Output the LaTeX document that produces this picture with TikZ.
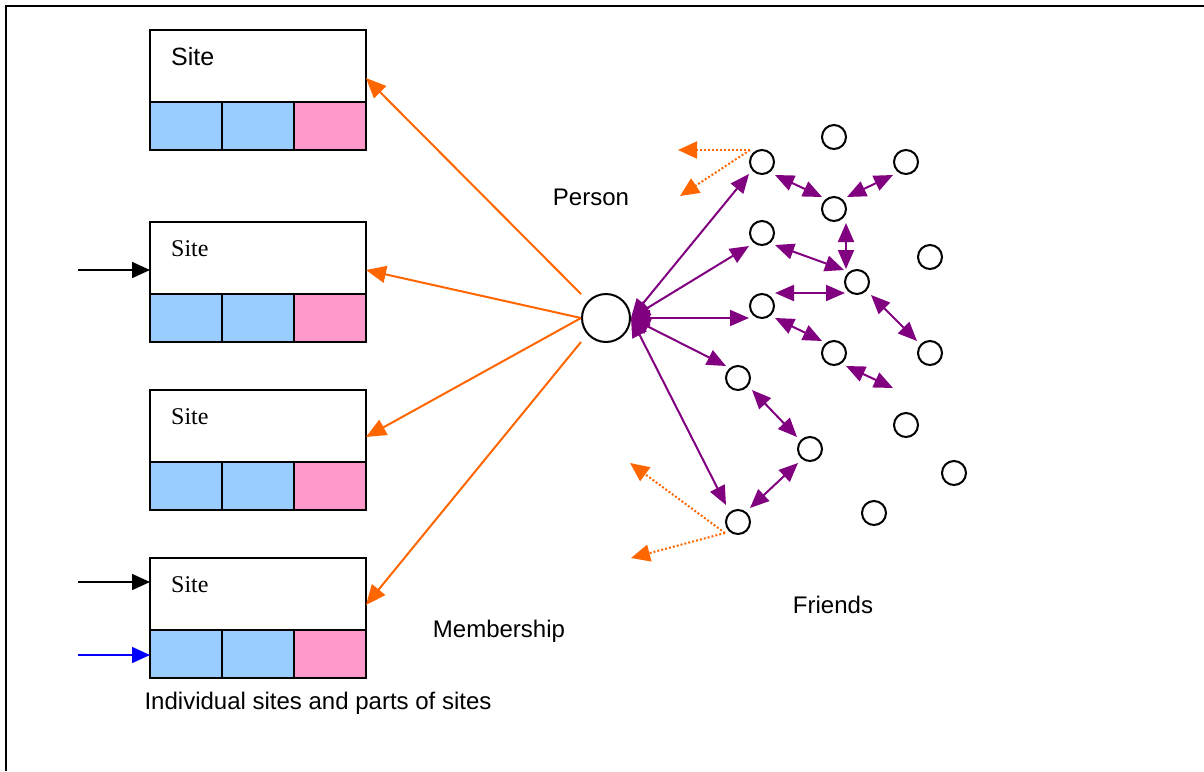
\documentclass[tikz,border=0pt]{standalone}
\usepackage{fontspec}
\setmainfont{Liberation Sans}
\newfontfamily\timesfont{Liberation Serif}
\usetikzlibrary{arrows.meta,calc}
\definecolor{orng}{HTML}{FF6600}
\definecolor{purp}{HTML}{800080}
\definecolor{cellblue}{HTML}{99CCFF}
\definecolor{cellpink}{HTML}{FF99CC}
\begin{document}
\begin{tikzpicture}[x=1pt,y=-1pt,
  sitetop/.style={draw,line width=2.4pt,minimum width=216pt,minimum height=72pt,anchor=north west,inner sep=0pt,outer sep=0pt},
  cell/.style={draw,line width=2.4pt,minimum width=72pt,minimum height=48pt,anchor=north west,inner sep=0pt,outer sep=0pt},
  big/.style={font=\fontsize{24}{28}\selectfont,inner sep=0pt},
  friend/.style={draw,circle,line width=2pt,minimum size=24pt,inner sep=0pt},
  memb/.style={draw=orng,line width=2pt,-{Triangle[length=20pt,width=17pt]}},
  link/.style={draw=purp,line width=2pt,{Triangle[length=19pt,width=16pt]}-{Triangle[length=19pt,width=16pt]}},
  hint/.style={draw=orng,line width=2pt,dash pattern=on 2pt off 2pt,-{Triangle[length=19pt,width=17pt]}},
  feed/.style={line width=1.6pt,-{Triangle[length=18pt,width=16pt]}}
]
\useasboundingbox (0,0) rectangle (1204,771);
\draw[line width=2pt] (5.5,771) -- (5.5,5.5) -- (1204,5.5);

% sites
\foreach \n/\y in {1/30,2/222,3/390,4/558}{
  \node[sitetop] (s\n) at (150,\y) {};
  \node[cell,fill=cellblue] (s\n a) at (s\n.south west) {};
  \node[cell,fill=cellblue] (s\n b) at (s\n a.north east) {};
  \node[cell,fill=cellpink] (s\n c) at (s\n b.north east) {};
}
\node[big,anchor=base west,font=\fontsize{25}{28}\selectfont] (t1) at (171,65) {Site};
\node[big,anchor=base west] (t2) at (171,256) {\timesfont Site};
\node[big,anchor=base west] (t3) at (171,424) {\timesfont Site};
\node[big,anchor=base west] (t4) at (171,592) {\timesfont Site};

% incoming arrows on the left
\coordinate (in2) at (78,270);
\coordinate (in4) at (78,582);
\coordinate (in4b) at (78,655);
\draw[feed] (in2) -- (in2 -| s2.west);
\draw[feed] (in4) -- (in4 -| s4.west);
\draw[feed,draw=blue,fill=blue] (in4b) -- (in4b -| s4a.west);

% person
\node[draw,circle,line width=2pt,minimum size=48pt,inner sep=0pt] (person) at (606,318) {};
\node[big,anchor=base] (lperson) at (591,205) {Person};
\node[big,anchor=base] (lmemb) at (499,637) {Membership};
\node[big,anchor=base] (lfriends) at (833,613) {Friends};
\node[big,anchor=base] (lsites) at (318,709) {Individual sites and parts of sites};

% membership arrows
\draw[memb] ($(person.west)+(0,-24)$) -- ($(s1.north east)+(0,48)$);
\draw[memb] (person.west) -- ($(s2.north east)+(0,48)$);
\draw[memb] (person.west) -- ($(s3.north east)+(0,47)$);
\draw[memb] ($(person.west)+(0,24)$) -- ($(s4.north east)+(0,47)$);

% friends
\node[friend] (A) at (762,162) {};
\node[friend] (B) at (834,137) {};
\node[friend] (C) at (906,162) {};
\node[friend] (D) at (834,209) {};
\node[friend] (E) at (762,233) {};
\node[friend] (F) at (930,257) {};
\node[friend] (G) at (857,282) {};
\node[friend] (H) at (762,306) {};
\node[friend] (I) at (834,353) {};
\node[friend] (J) at (930,353) {};
\node[friend] (K) at (738,378) {};
\node[friend] (L) at (906,425) {};
\node[friend] (M) at (810,449) {};
\node[friend] (N) at (954,473) {};
\node[friend] (O) at (874,513) {};
\node[friend] (P) at (738,522) {};

% person to friends
\draw[link] (person.east) -- ($(A)+(-13,12)$);
\draw[link] (person.east) -- ($(E)+(-13,13)$);
\draw[link] (person.east) -- ($(H)+(-13,12)$);
\draw[link] (person.east) -- ($(K)+(-12,-12)$);
\draw[link] (person.east) -- ($(P)+(-12,-17)$);

% friend to friend
\draw[link] ($(A)+(13,13)$) -- ($(D)+(-12,-12)$);
\draw[link] ($(C)+(-13,13)$) -- ($(D)+(13,-12)$);
\draw[link] ($(D)+(12,14)$) -- ($(G)+(-11,-13)$);
\draw[link] ($(E)+(13,12)$) -- ($(G)+(-13,-12)$);
\draw[link] ($(H)+(13,-13)$) -- ($(G)+(-12,11)$);
\draw[link] ($(H)+(13,12)$) -- ($(I)+(-12,-12)$);
\draw[link] ($(G)+(14,13)$) -- ($(J)+(-13,-12)$);
\coordinate (Iend) at (893,388);
\draw[link] ($(I)+(12,13)$) -- (Iend);
\draw[link] ($(K)+(14,12)$) -- ($(M)+(-13,-12)$);
\draw[link] ($(M)+(-12,14)$) -- ($(P)+(12,-14)$);

% dotted hints
\coordinate (h1) at (678,150);
\coordinate (h2) at (680,196);
\coordinate (h3) at (630,463);
\coordinate (h4) at (631,558);
\draw[hint] ($(A)+(-12,-12)$) -- (h1);
\draw[hint] ($(A)+(-12,-12)$) -- (h2);
\draw[hint] ($(P)+(-13,11)$) -- (h3);
\draw[hint] ($(P)+(-13,11)$) -- (h4);
\end{tikzpicture}
\end{document}
